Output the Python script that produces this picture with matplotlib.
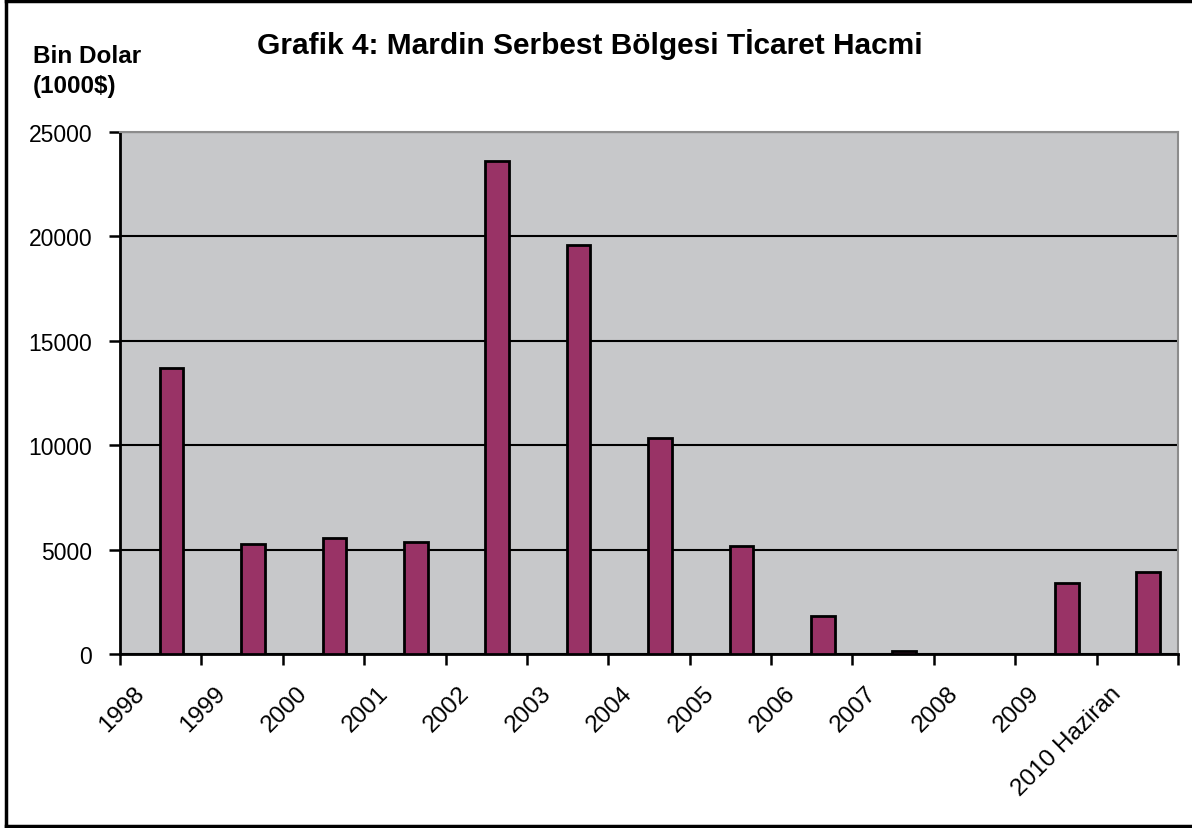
import matplotlib.pyplot as plt
import numpy as np
from matplotlib.lines import Line2D

plt.rcParams['font.family'] = ['Liberation Sans', 'DejaVu Sans']

# data (thousand dollars)
years = ['1998', '1999', '2000', '2001', '2002', '2003', '2004',
         '2005', '2006', '2007', '2008', '2009', '2010 Haziran']
volume = [13700, 5270, 5560, 5360, 23610, 19590, 10340,
          5170, 1810, 130, 0, 3400, 3940]
y_ticks = [0, 5000, 10000, 15000, 20000, 25000]

fig = plt.figure(figsize=(11.92, 8.29), dpi=100)
ax = fig.add_axes([120/1192, 1-655/829, 1058/1192, 522/829])
ax.set_facecolor('#C7C8CA')

x = np.arange(len(years))
ax.bar(x + 0.635, volume, width=0.29, color='#993366', edgecolor='black',
       linewidth=2, zorder=3)

ax.set_xlim(0, len(years))
ax.set_ylim(0, 25000)
ax.set_yticks(y_ticks)
ax.set_yticklabels([str(v) for v in y_ticks], fontsize=16.5)
ax.yaxis.grid(True, color='black', linewidth=1.5, zorder=1)

# ticks on the slot borders, labels shifted like the original
ax.set_xticks(np.arange(len(years) + 1))
ax.set_xticklabels([])
ax.set_xticks(x + 0.35, minor=True)
ax.set_xticklabels(years, minor=True, rotation=45, ha='right', fontsize=17.5)
ax.tick_params(axis='x', which='major', direction='out', length=8, width=1.8)
ax.tick_params(axis='x', which='minor', length=0, pad=20)
ax.tick_params(axis='y', direction='out', length=8, width=1.8, pad=12)

for s in ['left', 'bottom']:
    ax.spines[s].set_linewidth(2)
    ax.spines[s].set_color('black')
for s in ['top', 'right']:
    ax.spines[s].set_linewidth(1.5)
    ax.spines[s].set_color('#8C8C8C')

fig.text(0.495, 1-45/829, 'Grafik 4: Mardin Serbest Bölgesi Tİcaret Hacmi',
         ha='center', va='center', fontsize=21.5, fontweight='bold')
fig.text(33/1192, 1-63/829, 'Bin Dolar', ha='left', va='baseline',
         fontsize=17.5, fontweight='bold')
fig.text(33/1192, 1-93/829, '(1000$)', ha='left', va='baseline',
         fontsize=17.5, fontweight='bold')

# outer frame (right side is cut off in the original)
fig.add_artist(Line2D([6/1192, 6/1192], [1-2/829, 1-827/829],
                      transform=fig.transFigure, color='black', linewidth=2.5))
fig.add_artist(Line2D([6/1192, 1], [1-2/829, 1-2/829],
                      transform=fig.transFigure, color='black', linewidth=2.5))
fig.add_artist(Line2D([6/1192, 1], [1-827/829, 1-827/829],
                      transform=fig.transFigure, color='black', linewidth=2.5))

fig.savefig('out.png', dpi=100)
